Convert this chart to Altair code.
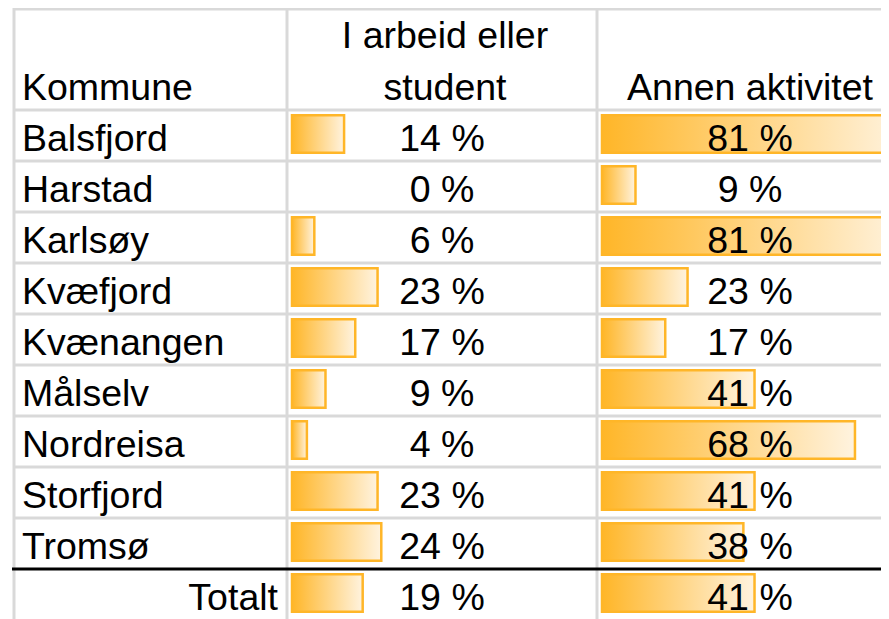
import altair as alt
import pandas as pd

# ---- data ----
kommuner = ["Balsfjord", "Harstad", "Karlsøy", "Kvæfjord", "Kvænangen",
            "Målselv", "Nordreisa", "Storfjord", "Tromsø", "Totalt"]
arbeid = [14, 0, 6, 23, 17, 9, 4, 23, 24, 19]
annen = [81, 9, 81, 23, 17, 41, 68, 41, 38, 41]
header_kommune = "Kommune"
header_arbeid = ["I arbeid eller", "student"]
header_annen = "Annen aktivitet"

df = pd.DataFrame({"Kommune": kommuner, "arbeid": arbeid, "annen": annen})

# ---- layout / style ----
W, H = 873, 612
FONT = "Liberation Sans"
FS = 37.5
GRID = "#D9D9D9"
BAR = "#FFB628"
PX_PER_PCT = 3.72

yscale = alt.Scale(domain=kommuner, range=[102, 612], paddingInner=0, paddingOuter=0)
Y = alt.Y("Kommune:N", scale=yscale, axis=None)
Ytop = alt.Y("Kommune:N", scale=yscale, axis=None, bandPosition=0)

one = alt.Data(values=[{"k": 1}])
base = alt.Chart(df)

# grid lines
hgrid = base.transform_filter("datum.Kommune != 'Totalt'").mark_rule(
    color=GRID, strokeWidth=3).encode(y=Ytop, x=alt.value(6), x2=alt.value(W))
top_border = alt.Chart(one).mark_rule(color=GRID, strokeWidth=3).encode(
    y=alt.value(1), x=alt.value(6), x2=alt.value(W))
vlines = [alt.Chart(one).mark_rule(color=GRID, strokeWidth=3).encode(
    x=alt.value(xv), y=alt.value(0), y2=alt.value(H)) for xv in (6, 279, 589)]
black = base.transform_filter("datum.Kommune == 'Totalt'").mark_rule(
    color="black", strokeWidth=3).encode(y=Ytop, x=alt.value(4), x2=alt.value(W))

grad = alt.LinearGradient(
    gradient="linear",
    stops=[alt.GradientStop(color="#FFB628", offset=0),
           alt.GradientStop(color="#FFF3DF", offset=1)],
    x1=0, x2=1, y1=0, y2=0)

def bars(field, start):
    return base.transform_filter(f"datum.{field} > 0").mark_bar(
        fill=grad, stroke=BAR, strokeWidth=2.5, size=37.5, yOffset=-1.5, clip=True
    ).encode(
        x=alt.X(f"{field}:Q", scale=alt.Scale(domain=[0, 100], range=[start, start + 100 * PX_PER_PCT]), axis=None),
        y=Y)

bars1 = bars("arbeid", 284)
bars2 = bars("annen", 594)

txt = dict(font=FONT, fontSize=FS, color="black", baseline="alphabetic")

row_labels = base.transform_filter("datum.Kommune != 'Totalt'").mark_text(
    align="left", dy=15, **txt).encode(x=alt.value(14), y=Y, text="Kommune:N")
total_label = base.transform_filter("datum.Kommune == 'Totalt'").mark_text(
    align="right", dy=15, **txt).encode(x=alt.value(270), y=Y, text="Kommune:N")

pct1 = base.transform_calculate(l="datum.arbeid + ' %'").mark_text(
    align="center", dy=15, **txt).encode(x=alt.value(434), y=Y, text="l:N")
pct2 = base.transform_calculate(l="datum.annen + ' %'").mark_text(
    align="center", dy=15, **txt).encode(x=alt.value(742), y=Y, text="l:N")

def head(text, x, y, align):
    return alt.Chart(alt.Data(values=[{"t": text}])).mark_text(align=align, **txt).encode(
        x=alt.value(x), y=alt.value(y), text="t:N")

headers = [
    head(header_kommune, 14, 92, "left"),
    head(header_arbeid[0], 437, 40, "center"),
    head(header_arbeid[1], 437, 92, "center"),
    head(header_annen, 742, 92, "center"),
]

chart = alt.layer(
    hgrid, top_border, *vlines, black, bars1, bars2,
    row_labels, total_label, pct1, pct2, *headers
).resolve_scale(x="independent").properties(
    width=W, height=H, padding=0, autosize=alt.AutoSizeParams(type="none")
).configure_view(stroke=None)

chart.save("out.html", embed_options={"renderer": "svg", "actions": False})
